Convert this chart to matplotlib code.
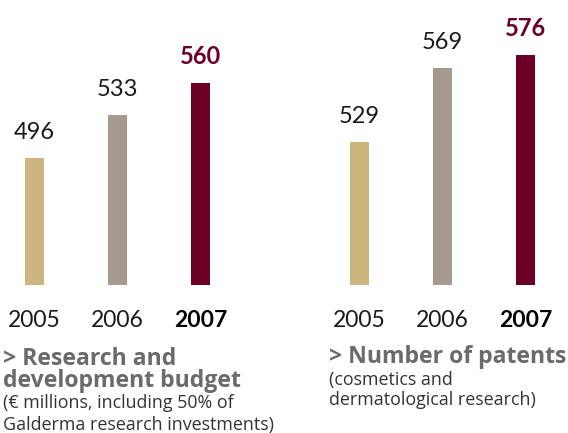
import matplotlib
matplotlib.use('Agg')
import matplotlib.pyplot as plt

# key figures
years = ['2005', '2006', '2007']
rd_budget = [496, 533, 560]
patents = [529, 569, 576]

bar_colors = ['#CDB57F', '#A69A8E', '#6B0024']
label_colors = ['#1a1a1a', '#1a1a1a', '#6B0024']
label_weights = ['normal', 'normal', 'bold']

W, H = 568, 433
DPI = 100
FONT = 'Lato'
TEXT_FONT = 'Open Sans'
PX = 72.0 / DPI  # pixels -> points


def fx(px):
    return px / W


def fy(px):
    # pixel measured from the top
    return 1 - px / H


def bar_panel(fig, left_px, right_px, first_center_px, ylim, values):
    ax = fig.add_axes([fx(left_px), fy(285), fx(right_px - left_px), 285 / H])
    step = 83.0
    x0 = (left_px - first_center_px) / step
    x1 = (right_px - first_center_px) / step
    ax.set_xlim(x0, x1)
    ax.set_ylim(*ylim)
    xs = range(len(values))
    ax.bar(xs, [v - ylim[0] for v in values], bottom=ylim[0], width=19 / step,
           color=bar_colors)
    for i, v in enumerate(values):
        ax.annotate(str(v), xy=(i, v), xytext=(0, 19 * PX), textcoords='offset points',
                    ha='center', va='baseline', fontsize=17, family=FONT,
                    color=label_colors[i], fontweight=label_weights[i])
        ax.annotate(years[i], xy=(i, 0), xycoords=('data', 'axes fraction'),
                    xytext=(0, -42 * PX), textcoords='offset points',
                    ha='center', va='baseline', fontsize=16.5, family=FONT,
                    color='#1a1a1a' if i < 2 else '#000000', fontweight=label_weights[i])
    ax.axis('off')
    return ax


fig = plt.figure(figsize=(W / DPI, H / DPI), dpi=DPI)

bar_panel(fig, 0, 284, 34.5, (386.5, 631.8), rd_budget)
bar_panel(fig, 284, 568, 359.5, (451.2, 605.9), patents)

title_kw = dict(fontsize=16.6, family=TEXT_FONT, fontweight='bold', color='#6a6a6a', va='baseline')
sub_kw = dict(fontsize=12.9, family=TEXT_FONT, color='#333333', va='baseline')

fig.text(fx(3), fy(365), '> Research and', **title_kw)
fig.text(fx(3), fy(387), 'development budget', **title_kw)
fig.text(fx(3), fy(408), '(€ millions, including 50% of', **sub_kw)
fig.text(fx(3), fy(430), 'Galderma research investments)', **sub_kw)

fig.text(fx(329), fy(363), '> Number of patents', **title_kw)
fig.text(fx(329), fy(385), '(cosmetics and', **sub_kw)
fig.text(fx(329), fy(405), 'dermatological research)', **sub_kw)

fig.savefig('out.png', dpi=DPI)
